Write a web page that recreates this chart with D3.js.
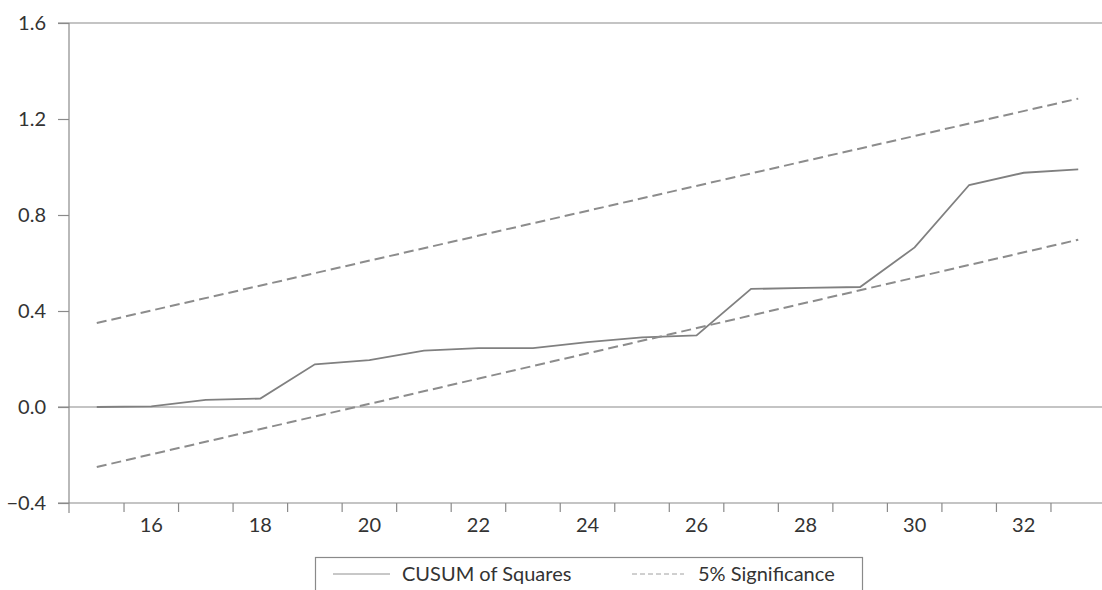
<!DOCTYPE html>
<html>
<head>
<meta charset="utf-8">
<script src="https://cdn.jsdelivr.net/npm/d3@7"></script>
<style>
  body { margin: 0; background: #fff; }
  svg text { font-family: Lato, "Open Sans", sans-serif; fill: #333; }
</style>
</head>
<body>
<svg id="chart"></svg>
<script>
// observations 15..33
var periods = d3.range(15, 34);
var cusumSq = [0.0, 0.003, 0.03, 0.035, 0.178, 0.195, 0.235, 0.245, 0.245, 0.27, 0.29, 0.298,
               0.492, 0.496, 0.50, 0.665, 0.925, 0.976, 0.99];
// 5% significance bounds (straight lines, read at the ends)
var upperBand = [[15, 0.35], [33, 1.285]];
var lowerBand = [[15, -0.25], [33, 0.697]];
var yTicks = [-0.4, 0.0, 0.4, 0.8, 1.2, 1.6];
var xLabels = [16, 18, 20, 22, 24, 26, 28, 30, 32];

var width = 1102, height = 590;
var svg = d3.select("#chart").attr("width", width).attr("height", height);

var x = d3.scaleBand().domain(periods).range([69.5, 1105.5]);
var y = d3.scaleLinear().domain([-0.4, 1.6]).range([503, 23]);
var cx = function(d) { return x(d) + x.bandwidth() / 2; };

var grey = "#8a8a8a";

// top frame line and zero line
svg.append("line")
  .attr("x1", 58).attr("x2", width)
  .attr("y1", y(1.6)).attr("y2", y(1.6))
  .attr("stroke", grey).attr("stroke-width", 1.2);
svg.append("line")
  .attr("x1", 58).attr("x2", width)
  .attr("y1", y(0)).attr("y2", y(0))
  .attr("stroke", grey).attr("stroke-width", 1.2);

// y axis
var yAxis = svg.append("g")
  .attr("transform", "translate(69,0)")
  .call(d3.axisLeft(y).tickValues(yTicks).tickSize(11).tickPadding(12)
    .tickFormat(function(d) { return d < 0 ? "\u2212" + d3.format(".1f")(-d) : d3.format(".1f")(d); }));
yAxis.select(".domain").remove();
yAxis.append("line").attr("x1", 0).attr("x2", 0).attr("y1", y(1.6)).attr("y2", 513)
  .attr("stroke", grey).attr("stroke-width", 1.2);
yAxis.selectAll(".tick line").attr("stroke", grey).attr("stroke-width", 1.2);
yAxis.selectAll(".tick text").style("font-size", "20px").attr("fill", "#333");

// x axis: ticks between periods, labels on even periods
var boundaries = periods.slice(1).map(function(d) { return x(d); });
var xAxis = svg.append("g");
xAxis.append("line").attr("x1", 58).attr("x2", width).attr("y1", y(-0.4)).attr("y2", y(-0.4))
  .attr("stroke", grey).attr("stroke-width", 1.2);
xAxis.selectAll(".xt").data(boundaries).enter().append("line")
  .attr("x1", function(d) { return d; }).attr("x2", function(d) { return d; })
  .attr("y1", y(-0.4)).attr("y2", y(-0.4) + 9)
  .attr("stroke", grey).attr("stroke-width", 1.2);
xAxis.selectAll(".xl").data(xLabels).enter().append("text")
  .attr("x", cx).attr("y", 532)
  .attr("text-anchor", "middle")
  .style("font-size", "20px")
  .text(function(d) { return d; });

// lines
var line = d3.line().x(function(d) { return cx(d[0]); }).y(function(d) { return y(d[1]); });

svg.append("path")
  .datum(d3.zip(periods, cusumSq))
  .attr("d", line)
  .attr("fill", "none").attr("stroke", "#808080").attr("stroke-width", 1.8);

[upperBand, lowerBand].forEach(function(b) {
  svg.append("path")
    .datum(b)
    .attr("d", line)
    .attr("fill", "none").attr("stroke", "#8c8c8c").attr("stroke-width", 2)
    .attr("stroke-dasharray", "10,5");
});

// legend
var lg = svg.append("g");
lg.append("rect").attr("x", 315.5).attr("y", 557.5).attr("width", 547).attr("height", 45)
  .attr("fill", "#fff").attr("stroke", grey).attr("stroke-width", 1.2);
lg.append("line").attr("x1", 333).attr("x2", 390).attr("y1", 574).attr("y2", 574)
  .attr("stroke", "#909090").attr("stroke-width", 1);
lg.append("text").attr("x", 402).attr("y", 581).style("font-size", "20px").text("CUSUM of Squares");
lg.append("line").attr("x1", 632).attr("x2", 684).attr("y1", 574).attr("y2", 574)
  .attr("stroke", "#a0a0a0").attr("stroke-width", 1).attr("stroke-dasharray", "5,3");
lg.append("text").attr("x", 698).attr("y", 581).style("font-size", "20px").text("5% Significance");
</script>
</body>
</html>
